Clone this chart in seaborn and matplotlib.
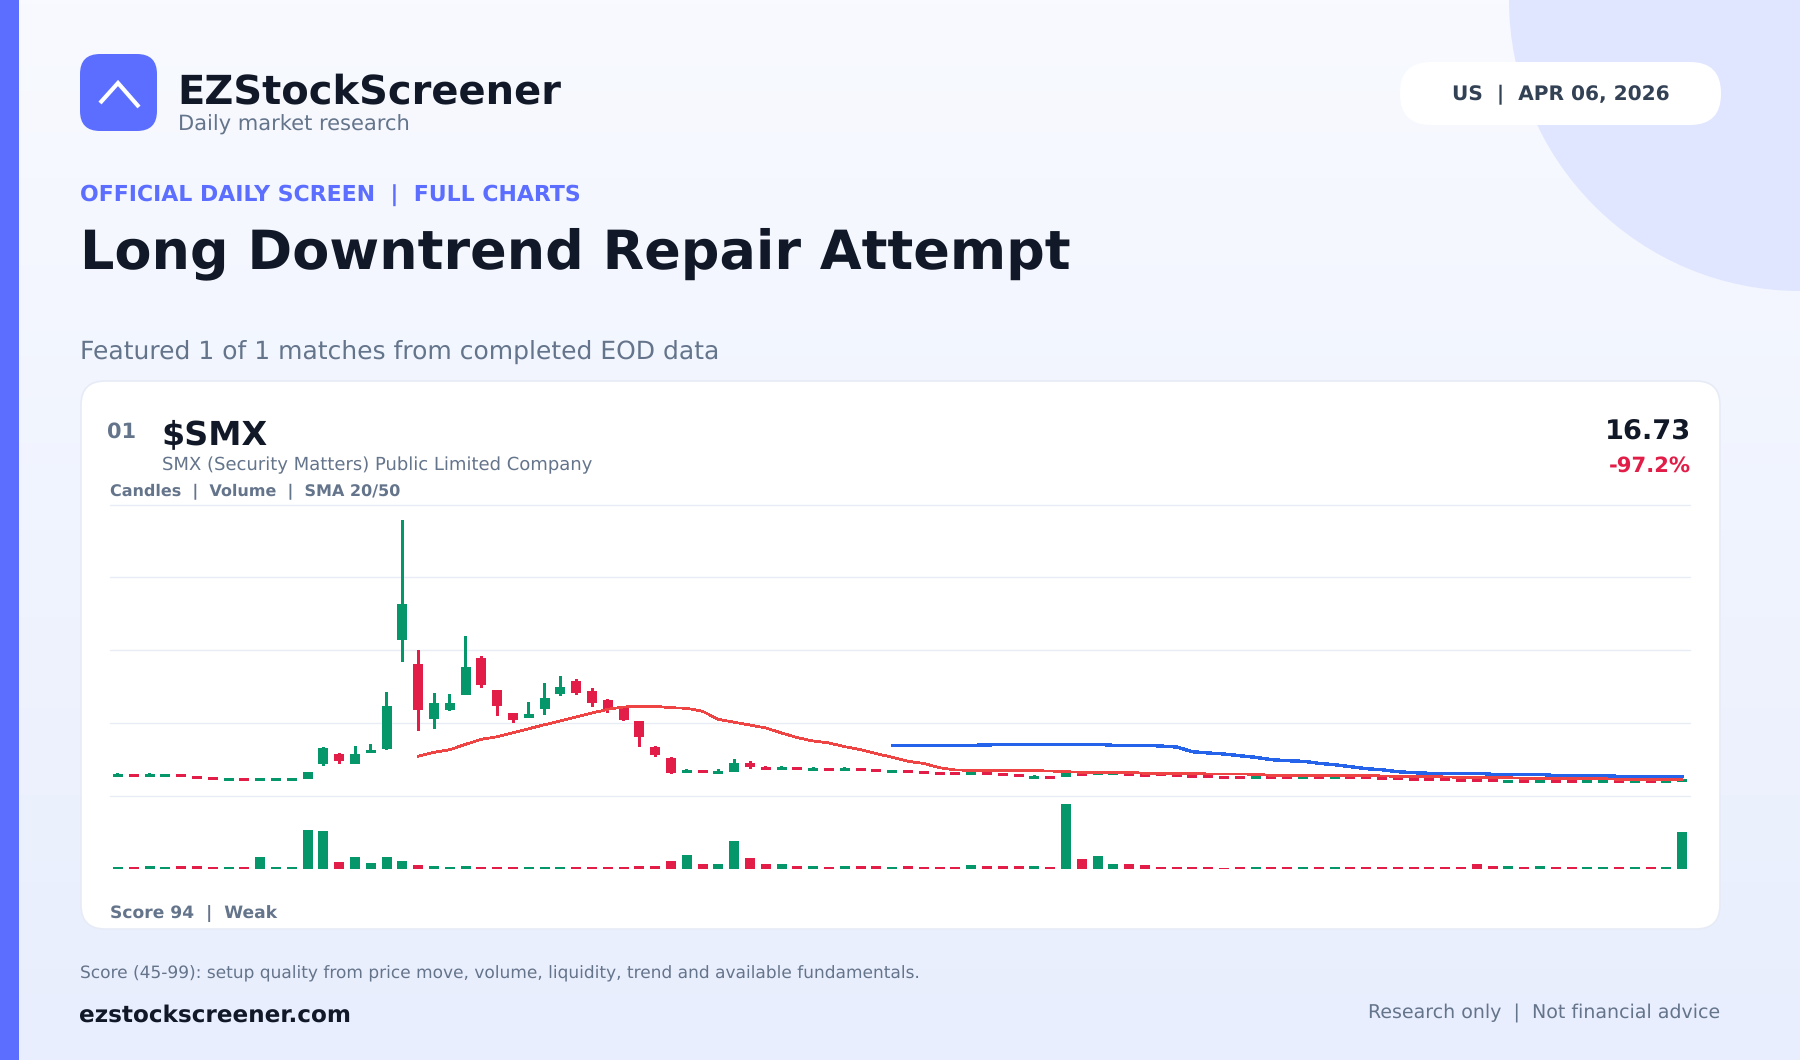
import numpy as np
import pandas as pd
import matplotlib
matplotlib.use("Agg")
import matplotlib.pyplot as plt
from matplotlib.patches import FancyBboxPatch, Circle, Rectangle
import seaborn as sns

# ---- data (one bar per session, oldest first; prices on the chart's hidden scale) ----
opens = [19,22,19,19,22,20,19,15,18,15,15,15,17,32,42,32,43,47,156,132,77,86,101,138,106,83,
         78,87,102,115,105,96,90,75,49,38,23,26,22,24,33,29,26,29,25,28,25,28,27,23,26,
         25,24,24,21,24,23,22,17,20,19,23,21,21,23,22,23,22,21,21,20,20,17,20,20,17,20,17,20,20,
         19,19,18,18,18,17,17,17,13,16,13,16,16,13,13,16,13,16,13,14]
highs = [23,22,23,22,22,20,19,18,18,18,18,18,24,49,43,50,52,104,276,146,103,102,160,140,106,83,
         94,113,120,117,108,97,90,75,50,39,27,26,27,37,35,30,30,29,29,28,29,28,27,26,26,
         25,24,24,24,24,23,22,21,20,26,23,24,24,23,22,23,22,21,21,20,20,20,20,20,20,20,20,20,20,
         19,19,18,18,18,17,17,17,16,16,16,16,16,16,16,16,16,16,16,17]
lows = [19,19,19,19,19,17,16,15,15,15,15,15,17,30,32,32,43,46,134,65,67,85,101,108,80,73,
        78,81,100,101,89,83,75,49,39,22,23,23,22,24,27,26,26,26,25,25,25,25,24,23,23,
        22,21,21,21,21,20,19,17,17,19,20,21,21,20,19,20,19,18,18,17,17,17,17,17,17,17,17,17,17,
        16,16,15,15,15,14,14,14,13,13,13,13,13,13,13,13,13,13,13,14]
closes = [22,19,22,22,19,17,16,18,15,18,18,18,24,48,35,42,46,90,192,86,93,93,129,111,90,76,
          82,98,109,103,93,87,76,59,41,23,26,23,25,33,29,26,29,26,28,25,28,25,24,26,23,
          22,21,21,24,21,20,19,20,17,25,20,24,24,20,19,20,19,18,18,17,17,20,17,17,20,17,20,17,17,
          16,16,15,15,15,14,14,14,16,13,16,13,13,16,16,13,16,13,16,16.73]
volumes = [2,2,3,2,3,3,2,2,2,12,2,2,39,38,7,12,6,12,8,4,3,2,3,2,2,2,2,2,2,2,2,2,2,3,3,8,14,5,5,28,
           11,5,5,3,3,2,3,3,3,2,3,2,2,2,4,3,3,3,3,2,65,10,13,5,5,4,2,2,2,2,1,2,2,2,2,2,2,2,2,2,
           2,2,2,2,2,2,5,3,3,2,3,2,2,2,2,2,2,2,2,37]
sma20 = [39.7,43.7,46.3,51.7,56.7,59.3,63.3,67.3,71.3,75,79,83,86.7,89,89.7,89.7,88.3,87.7,84.7,76.7,
         73.7,71,68,63,58.3,55,53,49.3,46.3,42.3,38.7,34.7,32.5,28.3,26,25.7,25.7,25.7,25.7,25.3,25,
         24.3,23.7,23.7,23.7,23.7,22.7,22.7,22.7,22.7,22,22,22,21.7,20.7,20.7,20.7,20.7,20.7,20.7,20.7,
         20,19.7,19.7,19.7,19,18.7,18.7,18.7,18.3,17.7,17.7,17.7,17.7,17.7,17.3,16.7,16.7,16.7,16.7,16.7]
sma50 = [50.7,50.7,50.7,50.7,50.7,50.7,51,51.7,51.7,51.7,51.7,51.7,51.7,51.7,50.7,50.7,50.7,50,49,
         44.3,43,42,40.3,38.7,36.3,35.3,34.7,32.7,31.3,29.3,27.3,26.3,24.3,23.3,22.7,22.7,22.7,22.7,21.7,
         21.7,21.7,21.7,20.3,20.3,20.3,20.3,19.7,19.7,19.7,19.7,19.7]
price_ticks = [0, 73, 146, 219, 291]

n = len(closes)
df = pd.DataFrame({"i": np.arange(n), "open": opens, "high": highs, "low": lows, "close": closes, "volume": volumes})
df["direction"] = np.where(df["close"] >= df["open"], "up", "down")
df["sma20"] = [np.nan] * (n - len(sma20)) + sma20
df["sma50"] = [np.nan] * (n - len(sma50)) + sma50

UP, DOWN = "#059669", "#e11d48"
RED_LINE, BLUE_LINE = "#ef4444", "#2563eb"
INK, SLATE, DARK = "#111827", "#64748b", "#334155"
ACCENT = "#5b6eff"
GRID = "#e8ecf4"

sns.set_theme(style="white")
plt.rcParams["font.family"] = ["DejaVu Sans"]
plt.rcParams["text.hinting"] = "no_hinting"
W, H = 1800, 1060
fig = plt.figure(figsize=(W / 100, H / 100), dpi=100)

# page layer in pixel coordinates
bg = fig.add_axes([0, 0, 1, 1], zorder=0)
bg.set_xlim(0, W); bg.set_ylim(H, 0); bg.axis("off")
grad = np.linspace(0, 1, 256)[:, None, None]
top, bottom = np.array([0xf8, 0xfa, 0xff]) / 255, np.array([0xe8, 0xee, 0xfd]) / 255
bg.imshow(top + (bottom - top) * grad, extent=[0, W, H, 0], aspect="auto", zorder=0)
bg.set_xlim(0, W); bg.set_ylim(H, 0)
bg.add_patch(Circle((1800, 0), 291, fc="#e0e6ff", ec="none", zorder=1))
bg.add_patch(Rectangle((0, 0), 19, H, fc=ACCENT, ec="none", zorder=1))
def rbox(x0, y0, x1, y1, r, **kw):
    bg.add_patch(FancyBboxPatch((x0 + r, y0 + r), x1 - x0 - 2 * r, y1 - y0 - 2 * r,
                                boxstyle=f"round,pad={r},rounding_size={r}", zorder=2, **kw))
rbox(1400, 62, 1721, 125, 31, fc="white", ec="none")
rbox(81, 381, 1720, 929, 24, fc="white", ec="#e6ebf6", lw=1.2)
rbox(80, 54, 157, 131, 20, fc=ACCENT, ec="none")
bg.plot([100, 118, 139], [103, 83, 107], color="white", lw=3.0, zorder=3,
        solid_capstyle="butt", solid_joinstyle="miter")

renderer = fig.canvas.get_renderer()
def label(s, x, y, width, color, bold=False, ha="left"):
    t = bg.text(x, y, s, ha=ha, va="baseline", color=color, fontsize=20,
                fontweight="bold" if bold else "normal", zorder=4)
    t.set_fontsize(20 * width / t.get_window_extent(renderer).width)
    return t

label("EZStockScreener", 177, 103, 384, INK, True)
label("Daily market research", 178, 131, 232, SLATE)
label("US  |  APR 06, 2026", 1452, 100, 217, DARK, True)
label("OFFICIAL DAILY SCREEN  |  FULL CHARTS", 80, 202, 501, ACCENT, True)
label("Long Downtrend Repair Attempt", 80, 268, 990, INK, True)
label("Featured 1 of 1 matches from completed EOD data", 80, 359, 639, SLATE)
label("01", 107, 438, 29, SLATE, True)
label("$SMX", 161, 444, 106, INK, True)
label("SMX (Security Matters) Public Limited Company", 162, 470, 430, SLATE)
label("Candles  |  Volume  |  SMA 20/50", 110, 496, 291, SLATE, True)
label("16.73", 1691, 439, 86, INK, True, ha="right")
label("-97.2%", 1691, 472, 82, DOWN, True, ha="right")
label("Score 94  |  Weak", 110, 919, 167, SLATE, True)
label("Score (45-99): setup quality from price move, volume, liquidity, trend and available fundamentals.",
      80, 978, 839, SLATE)
label("ezstockscreener.com", 79, 1022, 271, INK, True)
label("Research only  |  Not financial advice", 1720, 1019, 351, SLATE, ha="right")

# chart axes
def axes_px(x0, y0, x1, y1):
    a = fig.add_axes([x0 / W, 1 - y1 / H, (x1 - x0) / W, (y1 - y0) / H], zorder=3)
    a.patch.set_alpha(0)
    return a
ax = axes_px(110, 505, 1690, 796)
vx = axes_px(110, 796, 1690, 869)
xlim = (-0.506, 99.49)
BODY = 10 / 15.8
WICK = 3 / 15.8

for _, sub in df.groupby("direction"):
    c = UP if sub["direction"].iloc[0] == "up" else DOWN
    ax.bar(sub["i"], sub["high"] - sub["low"], bottom=sub["low"], width=WICK, color=c,
           edgecolor="none", linewidth=0, zorder=3)
    lo = sub[["open", "close"]].min(axis=1)
    hi = sub[["open", "close"]].max(axis=1)
    ax.bar(sub["i"], hi - lo, bottom=lo, width=BODY, color=c, edgecolor="none", linewidth=0, zorder=3)

sns.lineplot(data=df, x="i", y="sma50", color=BLUE_LINE, lw=1.7, estimator=None, ax=ax,
             antialiased=False, zorder=4)
sns.lineplot(data=df, x="i", y="sma20", color=RED_LINE, lw=1.25, estimator=None, ax=ax,
             antialiased=False, zorder=5)

sns.barplot(data=df, x="i", y="volume", hue="direction", palette={"up": UP, "down": DOWN},
            native_scale=True, dodge=False, width=BODY, saturation=1, legend=False, ax=vx,
            edgecolor="none", linewidth=0)

ax.set_xlim(*xlim); ax.set_ylim(0, 291)
vx.set_xlim(*xlim); vx.set_ylim(0, 73)
ax.set_yticks(price_ticks)
ax.set_xticks([]); vx.set_xticks([]); vx.set_yticks([])
ax.tick_params(left=False, labelleft=False)
ax.set_xlabel(""); ax.set_ylabel(""); vx.set_xlabel(""); vx.set_ylabel("")
ax.grid(axis="y", color=GRID, lw=1, zorder=1)
ax.set_axisbelow(True)
for gl in ax.get_ygridlines():
    gl.set_clip_on(False)
for a in (ax, vx):
    sns.despine(ax=a, left=True, bottom=True)

fig.savefig("out.png", dpi=100)
